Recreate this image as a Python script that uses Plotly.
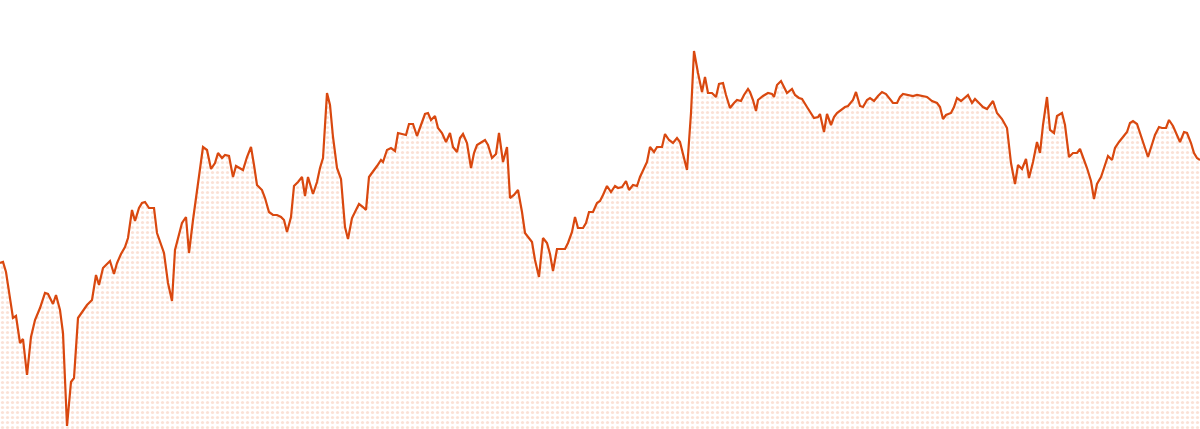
import plotly.graph_objects as go

# time index (days) and index level
t = [0, 3, 6, 9, 13, 16, 20, 23, 27, 31, 35, 40, 45, 48, 53, 56, 60, 63, 67, 71,
     74, 78, 83, 87, 92, 96, 99, 103, 107, 110, 114, 117, 121, 125, 128, 132, 135, 139, 142, 145,
     149, 154, 157, 164, 168, 172, 175, 178, 182, 186, 189, 193, 198, 203, 207, 211, 215, 218, 222, 225,
     229, 233, 236, 239, 243, 247, 251, 254, 257, 262, 265, 269, 273, 277, 281, 284, 287, 291, 294, 298,
     302, 305, 308, 313, 317, 320, 323, 327, 330, 333, 337, 341, 345, 348, 352, 355, 359, 363, 366, 369,
     373, 377, 381, 383, 387, 391, 395, 398, 402, 406, 409, 413, 417, 421, 425, 428, 431, 435, 438, 442, 446,
     450, 453, 457, 460, 463, 467, 471, 474, 477, 482, 485, 488, 492, 496, 499, 503, 507, 510, 514, 518,
     522, 525, 528, 532, 535, 539, 543, 547, 550, 553, 557, 561, 565, 568, 572, 575, 578, 583, 586, 589, 593, 597,
     600, 603, 607, 611, 615, 618, 622, 626, 629, 633, 637, 640, 643, 647, 650, 654, 657, 662, 665, 669,
     673, 677, 680, 683, 687, 691, 694, 698, 702, 705, 708, 712, 716, 719, 723, 726, 730, 734, 737, 741, 744, 748,
     750, 753, 756, 758, 763, 768, 772, 774, 777, 781, 784, 787, 792, 795, 799, 802, 807, 811, 814, 818,
     820, 824, 827, 831, 834, 837, 841, 845, 848, 853, 856, 860, 863, 867, 870, 874, 878, 882, 886, 889, 893, 897,
     900, 903, 908, 913, 917, 922, 927, 932, 937, 940, 943, 946, 951, 954, 957, 961, 965, 968, 972, 975,
     979, 983, 987, 990, 993, 997, 1002, 1007, 1011, 1015, 1018, 1022, 1026, 1029, 1033, 1037, 1040, 1043, 1047,
     1050, 1054, 1057, 1062, 1065, 1069, 1073, 1077, 1080, 1083, 1087, 1091, 1094, 1097, 1101, 1104, 1108, 1112, 1115, 1119,
     1123, 1127, 1130, 1133, 1137, 1141, 1144, 1148, 1152, 1155, 1159, 1162, 1166, 1169, 1173, 1176, 1180, 1184, 1187, 1191,
     1194, 1197, 1200]

level = [166, 167, 157, 139, 111, 113, 86, 90, 54, 92, 109, 121, 136, 135, 125, 134, 119, 96, 3, 47,
         51, 111, 119, 124, 129, 154, 144, 161, 165, 168, 155, 166, 175, 182, 191, 219, 208, 221, 226, 227,
         221, 221, 196, 176, 146, 128, 179, 192, 206, 212, 176, 209, 246, 282, 279, 260, 266, 276, 271, 274,
         273, 252, 263, 261, 259, 272, 282, 264, 244, 239, 231, 217, 214, 214, 212, 209, 197, 212, 243, 247,
         252, 233, 252, 235, 247, 261, 271, 336, 324, 292, 261, 250, 202, 190, 211, 217, 225, 222, 219, 252,
         257, 263, 269, 267, 279, 281, 278, 296, 295, 294, 305, 305, 293, 304, 315, 316, 309, 313, 301, 296, 287,
         296, 282, 277, 291, 295, 286, 261, 276, 284, 287, 289, 284, 271, 275, 296, 267, 282, 231, 234, 239,
         217, 196, 192, 187, 169, 152, 191, 186, 175, 158, 180, 180, 180, 186, 197, 212, 201, 201, 206, 217, 217, 226,
         228, 234, 243, 237, 243, 241, 242, 248, 239, 244, 243, 252, 259, 267, 282, 277, 282, 282, 295, 289,
         286, 291, 287, 274, 259, 316, 378, 356, 337, 352, 336, 336, 332, 345, 346, 334, 321, 326, 329, 328, 334, 340,
         337, 329, 318, 329, 333, 336, 335, 332, 344, 348, 342, 336, 340, 334, 331, 330, 322, 315, 311, 312,
         315, 297, 315, 304, 312, 316, 319, 322, 323, 329, 337, 323, 322, 329, 331, 328, 333, 337, 335, 331, 326, 326,
         332, 335, 334, 333, 334, 333, 332, 328, 326, 322, 310, 314, 316, 322, 331, 328, 332, 334, 326, 330,
         326, 322, 320, 324, 328, 316, 310, 301, 266, 245, 264, 260, 270, 251, 267, 287, 276, 304, 332,
         299, 296, 313, 316, 304, 272, 276, 276, 280, 272, 261, 248, 230, 245, 252, 261, 273, 269, 281, 287,
         292, 297, 306, 308, 305, 294, 284, 272, 286, 294, 302, 301, 301, 309, 303, 296, 287, 297, 296, 286,
         276, 271, 269]

LINE = "#d9480f"
DOT = "#f5c4ae"

fig = go.Figure(
    go.Scatter(
        x=t, y=level, mode="lines",
        line=dict(color=LINE, width=2.2),
        fill="tozeroy",
        fillpattern=dict(shape=".", size=5, solidity=0.32, fgcolor=DOT, bgcolor="white"),
        hoverinfo="skip",
    )
)
fig.update_layout(
    width=1200, height=429,
    margin=dict(l=0, r=0, t=0, b=0),
    paper_bgcolor="white", plot_bgcolor="white",
    showlegend=False,
    xaxis=dict(range=[0, 1200], visible=False, fixedrange=True),
    yaxis=dict(range=[0, 429], visible=False, fixedrange=True),
)
fig.write_html(
    "out.html",
    config={"displayModeBar": False},
    post_script="document.body.style.margin='0';document.body.style.overflow='hidden';",
)
